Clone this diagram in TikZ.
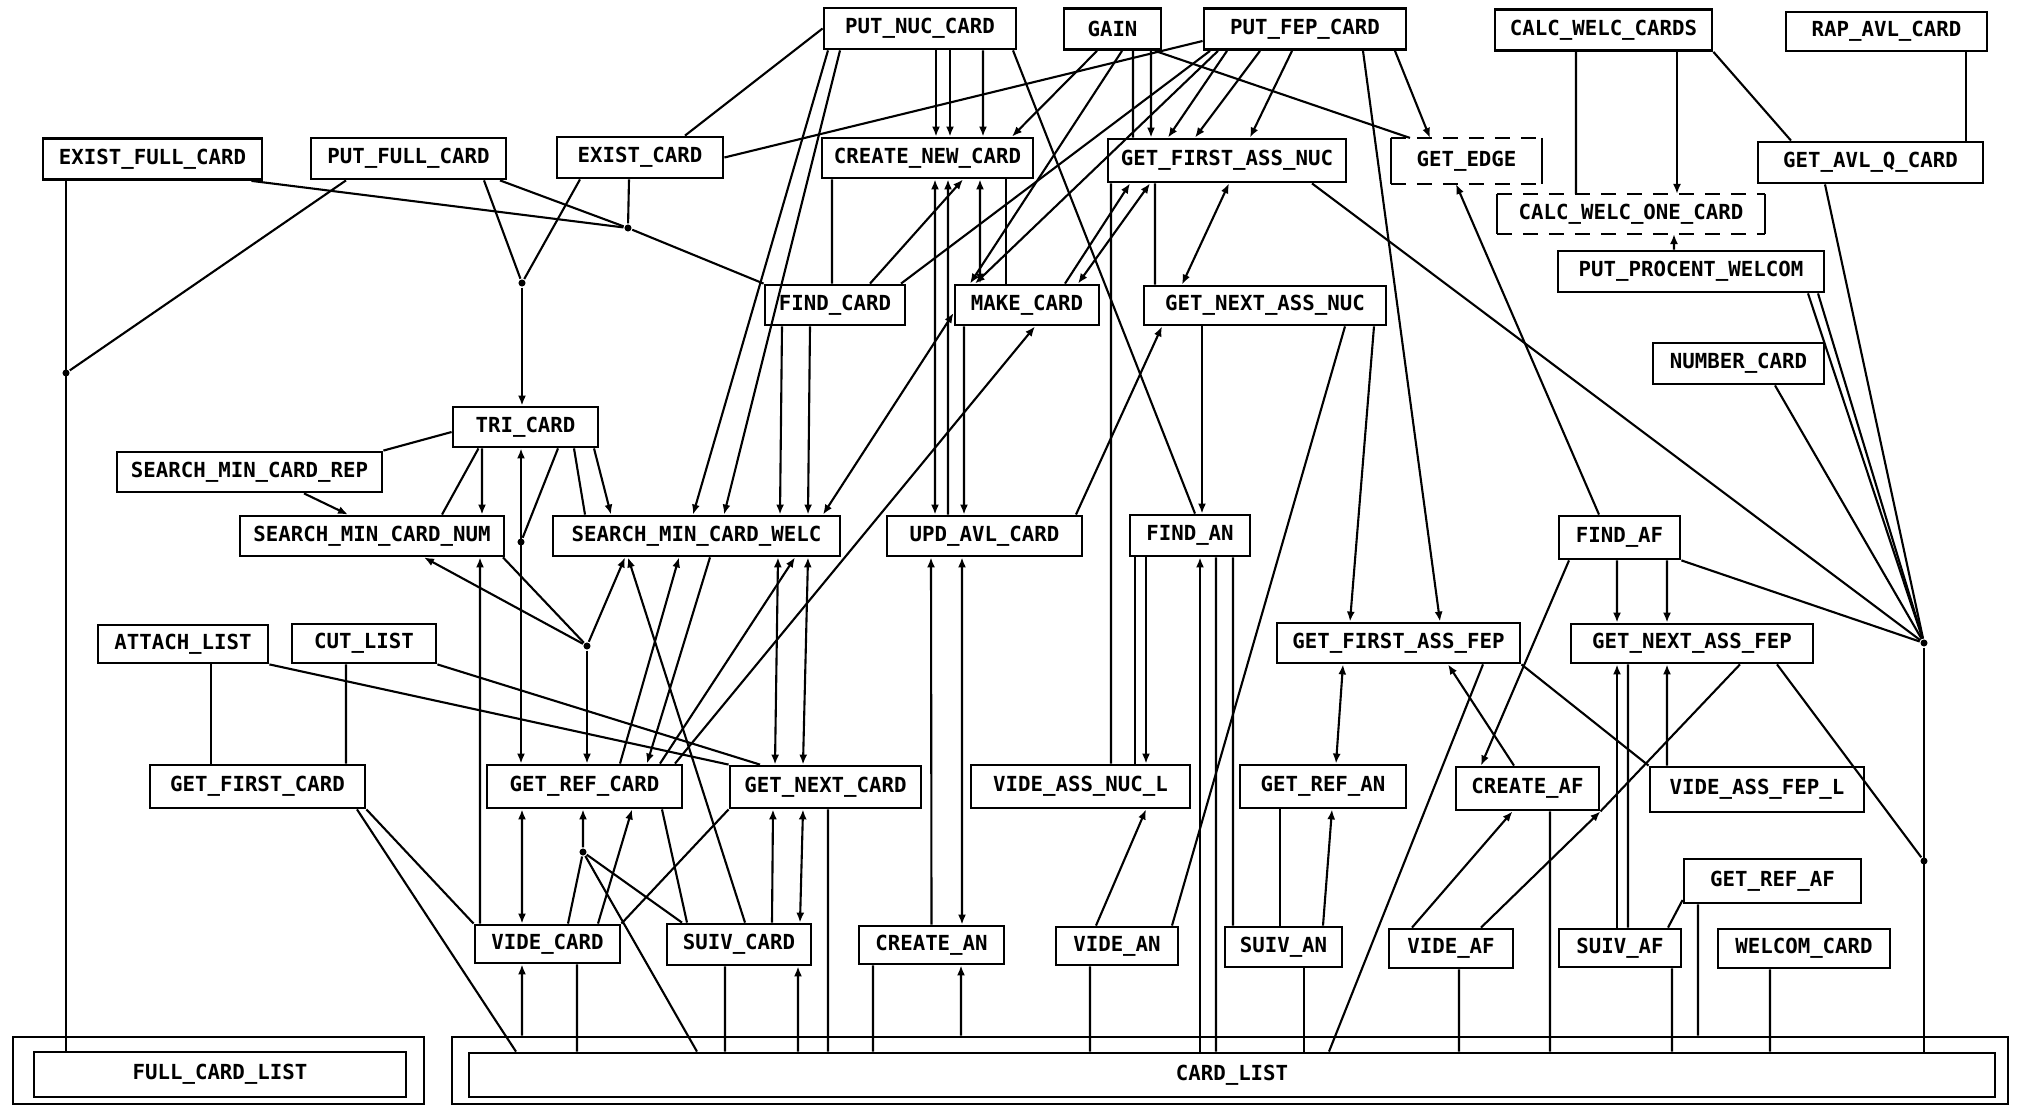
\documentclass[tikz,border=0pt]{standalone}
\usepackage{fontspec}
\newfontfamily\plotfont{DejaVu Sans Mono}
\usetikzlibrary{arrows.meta}

\begin{document}
\begin{tikzpicture}[
    x=1cm, y=-1cm, line width=0.6pt,
    box/.style={
        rectangle, draw=black, line width=0.8pt,
        inner sep=0pt, minimum height=0.41cm,
        font=\plotfont\bfseries\fontsize{5.9pt}{7pt}\selectfont
    },
    dbox/.style={
        rectangle, inner sep=0pt, minimum height=0.41cm,
        font=\plotfont\bfseries\fontsize{5.9pt}{7pt}\selectfont
    },
    dline/.style={line width=0.8pt, dash pattern=on 1.5mm off 1.1mm},
    side/.style={line width=0.8pt},
    junction/.style={circle, fill=black, inner sep=0pt, minimum size=2pt},
    arrow/.style={-{Latex[length=1mm,width=0.8mm]}},
    darrow/.style={{Latex[length=1mm,width=0.8mm]}-{Latex[length=1mm,width=0.8mm]}}
]
\useasboundingbox (0,0) rectangle (20.23,11.06);

\node[box, minimum width=1.92cm] (putnuc) at (9.20,0.285) {PUT\_NUC\_CARD};
\node[box, minimum width=0.97cm] (gain) at (11.125,0.29) {GAIN};
\node[box, minimum width=2.02cm] (putfep) at (13.05,0.29) {PUT\_FEP\_CARD};
\node[box, minimum width=2.17cm] (calcw) at (16.035,0.30) {CALC\_WELC\_CARDS};
\node[box, minimum width=2.01cm, minimum height=0.39cm] (rap) at (18.865,0.315) {RAP\_AVL\_CARD};
\node[box, minimum width=2.19cm] (existfull) at (1.525,1.59) {EXIST\_FULL\_CARD};
\node[box, minimum width=1.95cm] (putfull) at (4.085,1.585) {PUT\_FULL\_CARD};
\node[box, minimum width=1.66cm] (exist) at (6.40,1.575) {EXIST\_CARD};
\node[box, minimum width=2.11cm, minimum height=0.40cm] (create) at (9.275,1.58) {CREATE\_NEW\_CARD};
\node[box, minimum width=2.38cm, minimum height=0.43cm] (gfan) at (12.27,1.605) {GET\_FIRST\_ASS\_NUC};
\node[dbox, minimum width=1.49cm, minimum height=0.44cm] (getedge) at (14.665,1.61) {GET\_EDGE};
\node[box, minimum width=2.25cm] (gavl) at (18.705,1.625) {GET\_AVL\_Q\_CARD};
\node[dbox, minimum width=2.66cm, minimum height=0.38cm] (calcone) at (16.31,2.14) {CALC\_WELC\_ONE\_CARD};
\node[box, minimum width=2.66cm] (procent) at (16.91,2.715) {PUT\_PROCENT\_WELCOM};
\node[box, minimum width=1.40cm, minimum height=0.40cm] (find) at (8.35,3.05) {FIND\_CARD};
\node[box, minimum width=1.44cm, minimum height=0.40cm] (make) at (10.27,3.05) {MAKE\_CARD};
\node[box, minimum width=2.42cm, minimum height=0.39cm] (gnan) at (12.65,3.055) {GET\_NEXT\_ASS\_NUC};
\node[box, minimum width=1.71cm] (number) at (17.385,3.635) {NUMBER\_CARD};
\node[box, minimum width=1.45cm, minimum height=0.40cm] (tri) at (5.255,4.27) {TRI\_CARD};
\node[box, minimum width=2.65cm, minimum height=0.40cm] (smcrep) at (2.495,4.72) {SEARCH\_MIN\_CARD\_REP};
\node[box, minimum width=2.64cm, minimum height=0.40cm] (smcnum) at (3.72,5.36) {SEARCH\_MIN\_CARD\_NUM};
\node[box, minimum width=2.87cm, minimum height=0.40cm] (smcwelc) at (6.965,5.36) {SEARCH\_MIN\_CARD\_WELC};
\node[box, minimum width=1.95cm, minimum height=0.40cm] (upd) at (9.845,5.36) {UPD\_AVL\_CARD};
\node[box, minimum width=1.20cm] (findan) at (11.90,5.355) {FIND\_AN};
\node[box, minimum width=1.21cm, minimum height=0.43cm] (findaf) at (16.195,5.375) {FIND\_AF};
\node[box, minimum width=1.70cm, minimum height=0.38cm] (attach) at (1.83,6.44) {ATTACH\_LIST};
\node[box, minimum width=1.44cm, minimum height=0.39cm] (cut) at (3.64,6.435) {CUT\_LIST};
\node[box, minimum width=2.43cm, minimum height=0.40cm] (gfaf) at (13.985,6.43) {GET\_FIRST\_ASS\_FEP};
\node[box, minimum width=2.42cm, minimum height=0.39cm] (gnaf) at (16.92,6.435) {GET\_NEXT\_ASS\_FEP};
\node[box, minimum width=2.15cm, minimum height=0.43cm] (gfc) at (2.575,7.865) {GET\_FIRST\_CARD};
\node[box, minimum width=1.95cm, minimum height=0.43cm] (grc) at (5.845,7.865) {GET\_REF\_CARD};
\node[box, minimum width=1.91cm, minimum height=0.42cm] (gnc) at (8.255,7.87) {GET\_NEXT\_CARD};
\node[box, minimum width=2.19cm, minimum height=0.43cm] (vanl) at (10.805,7.865) {VIDE\_ASS\_NUC\_L};
\node[box, minimum width=1.66cm, minimum height=0.43cm] (gran) at (13.23,7.865) {GET\_REF\_AN};
\node[box, minimum width=1.43cm, minimum height=0.43cm] (caf) at (15.275,7.885) {CREATE\_AF};
\node[box, minimum width=2.14cm, minimum height=0.45cm] (vafl) at (17.57,7.895) {VIDE\_ASS\_FEP\_L};
\node[box, minimum width=1.77cm, minimum height=0.44cm] (graf) at (17.725,8.81) {GET\_REF\_AF};
\node[box, minimum width=1.45cm, minimum height=0.38cm] (videc) at (5.475,9.44) {VIDE\_CARD};
\node[box, minimum width=1.44cm] (suivc) at (7.39,9.445) {SUIV\_CARD};
\node[box, minimum width=1.45cm, minimum height=0.38cm] (crean) at (9.315,9.45) {CREATE\_AN};
\node[box, minimum width=1.22cm, minimum height=0.38cm] (videan) at (11.17,9.46) {VIDE\_AN};
\node[box, minimum width=1.17cm, minimum height=0.40cm] (suivan) at (12.835,9.47) {SUIV\_AN};
\node[box, minimum width=1.24cm, minimum height=0.39cm] (videaf) at (14.51,9.485) {VIDE\_AF};
\node[box, minimum width=1.22cm, minimum height=0.38cm] (suivaf) at (16.20,9.48) {SUIV\_AF};
\node[box, minimum width=1.72cm, minimum height=0.39cm] (welcom) at (18.04,9.485) {WELCOM\_CARD};
\node[box, minimum width=4.11cm, minimum height=0.67cm] (fullout) at (2.185,10.705) {};
\node[box, minimum width=3.72cm, minimum height=0.45cm] (fullin) at (2.20,10.745) {FULL\_CARD\_LIST};
\node[box, minimum width=15.56cm, minimum height=0.67cm] (cardout) at (12.30,10.705) {};
\node[box, minimum width=15.26cm, minimum height=0.44cm] (cardin) at (12.32,10.75) {CARD\_LIST};

\draw[dline] (getedge.north west) -- (getedge.north east) (getedge.south west) -- (getedge.south east);
\draw[side] (getedge.north west) -- (getedge.south west) (getedge.north east) -- (getedge.south east);
\draw[dline] (calcone.north west) -- (calcone.north east) (calcone.south west) -- (calcone.south east);
\draw[side] (calcone.north west) -- (calcone.south west) (calcone.north east) -- (calcone.south east);

\node[junction] (j1) at (6.28,2.28) {};
\node[junction] (j2) at (5.22,2.83) {};
\node[junction] (jfull) at (0.66,3.73) {};
\node[junction] (jdot) at (5.21,5.42) {};
\node[junction] (j3) at (5.87,6.46) {};
\node[junction] (j4) at (19.24,6.43) {};
\node[junction] (j5) at (19.24,8.61) {};
\node[junction] (j6) at (5.83,8.52) {};

\draw (putnuc.west) -- ([xshift=0.45cm]exist.north);
\draw ([yshift=-0.12cm]putfep.west) -- (exist.east);
\draw[arrow] ([xshift=-0.92cm]putnuc.south) -- ([xshift=-0.035cm]smcwelc.north);
\draw[arrow] ([xshift=-0.80cm]putnuc.south) -- ([xshift=0.275cm]smcwelc.north);
\draw[arrow] ([xshift=0.16cm]putnuc.south) -- ([xshift=0.085cm]create.north);
\draw[arrow] ([xshift=0.30cm]putnuc.south) -- ([xshift=0.225cm]create.north);
\draw[arrow] ([xshift=0.63cm]putnuc.south) -- ([xshift=0.555cm]create.north);
\draw ([xshift=0.93cm]putnuc.south) -- ([xshift=0.05cm]findan.north);
\draw[arrow] ([xshift=-0.155cm]gain.south) -- ([xshift=0.845cm]create.north);
\draw[arrow] ([xshift=0.095cm]gain.south) -- ([xshift=-0.57cm]make.north);
\draw ([xshift=0.205cm]gain.south) -- ([xshift=-0.94cm]gfan.north);
\draw[arrow] ([xshift=0.385cm]gain.south) -- ([xshift=-0.76cm]gfan.north);
\draw ([xshift=0.425cm]gain.south) -- ([xshift=-0.565cm]getedge.north);
\draw[arrow] ([xshift=0.90cm]putfep.south) -- ([xshift=-0.365cm]getedge.north);
\draw[arrow] ([xshift=-0.87cm]putfep.south) -- ([xshift=-0.52cm]make.north);
\draw ([xshift=-0.95cm]putfep.south) -- ([xshift=0.66cm]find.north);
\draw[arrow] ([xshift=-0.78cm]putfep.south) -- ([xshift=-0.59cm]gfan.north);
\draw[arrow] ([xshift=-0.45cm]putfep.south) -- ([xshift=-0.32cm]gfan.north);
\draw[arrow] ([xshift=-0.13cm]putfep.south) -- ([xshift=0.23cm]gfan.north);
\draw[arrow] ([xshift=0.58cm]putfep.south) -- ([xshift=0.415cm]gfaf.north);
\draw ([xshift=-0.275cm]calcw.south) -- ([xshift=-0.55cm]calcone.north);
\draw[arrow] ([xshift=0.735cm]calcw.south) -- ([xshift=0.46cm]calcone.north);
\draw (calcw.south east) -- ([xshift=-0.795cm]gavl.north);
\draw ([xshift=0.795cm]rap.south) -- ([xshift=0.955cm]gavl.north);
\draw[arrow] ([xshift=-0.17cm]procent.north) -- ([xshift=0.43cm]calcone.south);

\draw ([xshift=0.99cm]existfull.south) -- (j1);
\draw ([xshift=-0.11cm]exist.south) -- (j1);
\draw ([xshift=0.915cm]putfull.south) -- (j1) -- (find.north west);
\draw ([xshift=0.755cm]putfull.south) -- (j2);
\draw ([xshift=-0.60cm]exist.south) -- (j2);
\draw[arrow] (j2) -- (tri.north -| j2);
\draw (existfull.south -| jfull) -- (fullin.north -| jfull);
\draw ([xshift=-0.625cm]putfull.south) -- (jfull);

\draw ([xshift=-0.955cm]create.south) -- ([xshift=-0.03cm]find.north);
\draw ([xshift=0.785cm]create.south) -- ([xshift=-0.21cm]make.north);
\draw[arrow] ([xshift=0.35cm]find.north) -- ([xshift=0.355cm]create.south);
\draw[darrow] ([xshift=-0.47cm]make.north) -- ([xshift=0.525cm]create.south);
\draw[darrow] ([xshift=-0.495cm]upd.north) -- ([xshift=0.075cm]create.south);
\draw[arrow] ([xshift=-0.365cm]upd.north) -- ([xshift=0.205cm]create.south);
\draw[arrow] ([xshift=-0.63cm]make.south) -- ([xshift=-0.205cm]upd.north);
\draw[darrow] ([xshift=1.265cm]smcwelc.north) -- ([yshift=-0.08cm]make.west);
\draw[arrow] ([xshift=0.905cm]grc.north) -- ([xshift=0.08cm]make.south);
\draw[arrow] ([xshift=0.38cm]make.north) -- ([xshift=-0.97cm]gfan.south);
\draw[darrow] ([xshift=0.51cm]make.north) -- ([xshift=-0.77cm]gfan.south);
\draw ([xshift=-1.16cm]gfan.south) -- ([xshift=0.305cm]vanl.north);
\draw ([xshift=-0.72cm]gfan.south) -- ([xshift=-1.10cm]gnan.north);
\draw[darrow] ([xshift=0.02cm]gfan.south) -- ([xshift=-0.83cm]gnan.north);
\draw ([xshift=0.85cm]gfan.south) -- (j4);
\draw[arrow] ([xshift=0.915cm]upd.north) -- ([xshift=-1.03cm]gnan.south);
\draw[arrow] ([xshift=-0.63cm]gnan.south) -- ([xshift=0.12cm]findan.north);
\draw ([xshift=0.80cm]gnan.south) -- ([xshift=0.55cm]videan.north);
\draw[arrow] ([xshift=1.09cm]gnan.south) -- ([xshift=-0.485cm]gfaf.north);
\draw[arrow] ([xshift=-0.53cm]find.south) -- ([xshift=0.835cm]smcwelc.north);
\draw[arrow] ([xshift=-0.25cm]find.south) -- ([xshift=1.115cm]smcwelc.north);

\draw[arrow] ([xshift=-0.205cm]findaf.north) -- ([xshift=-0.105cm]getedge.south);
\draw ([xshift=-0.455cm]gavl.south) -- (j4);
\draw ([xshift=1.17cm]procent.south) -- (j4);
\draw ([xshift=1.27cm]procent.south) -- (j4);
\draw ([xshift=0.365cm]number.south) -- (j4);
\draw (findaf.south east) -- (j4);
\draw (j4) -- (cardin.north -| j4);
\draw ([xshift=0.85cm]gnaf.south) -- (j5);

\draw (smcrep.north east) -- ([yshift=-0.05cm]tri.west);
\draw[arrow] ([xshift=0.545cm]smcrep.south) -- ([xshift=-0.24cm]smcnum.north);
\draw ([xshift=-0.47cm]tri.south) -- ([xshift=0.70cm]smcnum.north);
\draw[arrow] ([xshift=-0.435cm]tri.south) -- ([xshift=1.10cm]smcnum.north);
\draw[darrow] ([xshift=-0.045cm]tri.south) -- ([xshift=-0.635cm]grc.north);
\draw ([xshift=0.325cm]tri.south) -- (jdot);
\draw ([xshift=0.485cm]tri.south) -- ([xshift=-1.115cm]smcwelc.north);
\draw[arrow] ([xshift=0.685cm]tri.south) -- ([xshift=-0.855cm]smcwelc.north);

\draw ([xshift=1.31cm]smcnum.south) -- (j3);
\draw[arrow] (j3) -- ([xshift=0.52cm]smcnum.south);
\draw[arrow] (j3) -- ([xshift=-0.715cm]smcwelc.south);
\draw[arrow] (j3) -- ([xshift=0.025cm]grc.north);
\draw[arrow] ([xshift=-0.675cm]videc.north) -- ([xshift=1.08cm]smcnum.south);
\draw[arrow] ([xshift=0.06cm]suivc.north) -- ([xshift=-0.685cm]smcwelc.south);
\draw[arrow] ([xshift=0.355cm]grc.north) -- ([xshift=-0.175cm]smcwelc.south);
\draw[arrow] ([xshift=0.135cm]smcwelc.south) -- ([xshift=0.625cm]grc.north);
\draw[arrow] ([xshift=0.755cm]grc.north) -- ([xshift=0.985cm]smcwelc.south);
\draw[darrow] ([xshift=0.815cm]smcwelc.south) -- ([xshift=-0.505cm]gnc.north);
\draw[darrow] ([xshift=1.115cm]smcwelc.south) -- ([xshift=-0.225cm]gnc.north);
\draw (attach.south east) -- (gnc.north west);
\draw (cut.south east) -- ([xshift=-0.655cm]gnc.north);
\draw ([xshift=0.28cm]attach.south) -- ([xshift=-0.465cm]gfc.north);
\draw ([xshift=-0.18cm]cut.south) -- ([xshift=0.885cm]gfc.north);

\draw (gfc.south east) -- (videc.north west);
\draw ([xshift=0.995cm]gfc.south) -- ([xshift=-7.16cm]cardin.north);
\draw[darrow] ([xshift=-0.625cm]grc.south) -- ([xshift=-0.255cm]videc.north);
\draw[arrow] (j6) -- ([xshift=-0.015cm]grc.south);
\draw ([xshift=0.205cm]videc.north) -- (j6);
\draw ([xshift=-0.57cm]suivc.north) -- (j6);
\draw (j6) -- ([xshift=-5.35cm]cardin.north);
\draw[arrow] ([xshift=0.505cm]videc.north) -- ([xshift=0.475cm]grc.south);
\draw ([xshift=0.775cm]grc.south) -- ([xshift=-0.52cm]suivc.north);
\draw (gnc.south west) -- (videc.north east);
\draw[arrow] ([xshift=0.33cm]suivc.north) -- ([xshift=-0.525cm]gnc.south);
\draw[darrow] ([xshift=0.61cm]suivc.north) -- ([xshift=-0.225cm]gnc.south);
\draw ([xshift=0.025cm]gnc.south) -- ([xshift=-4.04cm]cardin.north);
\draw[arrow] ([xshift=-7.08cm]cardout.north) -- ([xshift=-0.255cm]videc.south);
\draw ([xshift=0.295cm]videc.south) -- ([xshift=-6.55cm]cardin.north);
\draw ([xshift=-0.14cm]suivc.south) -- ([xshift=-5.07cm]cardin.north);
\draw[arrow] ([xshift=-4.34cm]cardin.north) -- ([xshift=0.59cm]suivc.south);

\draw[arrow] (crean.north) -- ([xshift=-0.535cm]upd.south);
\draw[darrow] ([xshift=-0.225cm]upd.south) -- ([xshift=0.305cm]crean.north);
\draw ([xshift=-0.585cm]crean.south) -- ([xshift=-3.59cm]cardin.north);
\draw[arrow] ([xshift=-2.69cm]cardout.north) -- ([xshift=0.295cm]crean.south);
\draw[arrow] ([xshift=-0.21cm]videan.north) -- ([xshift=0.655cm]vanl.south);
\draw ([xshift=-0.27cm]videan.south) -- ([xshift=-1.42cm]cardin.north);
\draw ([xshift=-0.55cm]findan.south) -- ([xshift=0.545cm]vanl.north);
\draw[arrow] ([xshift=-0.44cm]findan.south) -- ([xshift=0.655cm]vanl.north);
\draw[arrow] ([xshift=-0.32cm]cardin.north) -- ([xshift=0.10cm]findan.south);
\draw ([xshift=0.26cm]findan.south) -- ([xshift=-0.16cm]cardin.north);
\draw ([xshift=0.43cm]findan.south) -- ([xshift=-0.505cm]suivan.north);
\draw ([xshift=-0.035cm]suivan.north) -- ([xshift=-0.43cm]gran.south);
\draw[arrow] ([xshift=0.395cm]suivan.north) -- ([xshift=0.09cm]gran.south);
\draw ([xshift=0.205cm]suivan.south) -- ([xshift=0.72cm]cardin.north);
\draw[darrow] ([xshift=-0.555cm]gfaf.south) -- ([xshift=0.13cm]gran.north);

\draw ([xshift=0.845cm]gfaf.south) -- ([xshift=0.97cm]cardin.north);
\draw[arrow] ([xshift=-0.135cm]caf.north) -- ([xshift=0.495cm]gfaf.south);
\draw (gfaf.south east) -- (vafl.north west);
\draw[arrow] ([xshift=-0.505cm]findaf.south) -- ([xshift=-0.465cm]caf.north);
\draw[arrow] ([xshift=-0.025cm]findaf.south) -- ([xshift=-0.75cm]gnaf.north);
\draw[arrow] ([xshift=0.475cm]findaf.south) -- ([xshift=-0.25cm]gnaf.north);
\draw[arrow] ([xshift=-0.03cm]suivaf.north) -- ([xshift=-0.75cm]gnaf.south);
\draw ([xshift=0.08cm]suivaf.north) -- ([xshift=-0.64cm]gnaf.south);
\draw[arrow] ([xshift=-0.90cm]vafl.north) -- ([xshift=-0.25cm]gnaf.south);
\draw[arrow] ([xshift=-0.39cm]videaf.north) -- ([xshift=-0.15cm]caf.south);
\draw[arrow] ([xshift=0.30cm]videaf.north) -- (caf.south east);
\draw (caf.south east) -- ([xshift=0.48cm]gnaf.south);
\draw ([xshift=0.225cm]caf.south) -- ([xshift=3.18cm]cardin.north);
\draw ([xshift=0.08cm]videaf.south) -- ([xshift=2.27cm]cardin.north);
\draw ([xshift=0.52cm]suivaf.south) -- ([xshift=4.40cm]cardin.north);
\draw ([yshift=-0.19cm]graf.west) -- ([xshift=0.48cm]suivaf.north);
\draw ([xshift=-0.745cm]graf.south) -- ([xshift=4.68cm]cardout.north);
\draw ([xshift=-0.34cm]welcom.south) -- ([xshift=5.38cm]cardin.north);
\end{tikzpicture}
\end{document}
